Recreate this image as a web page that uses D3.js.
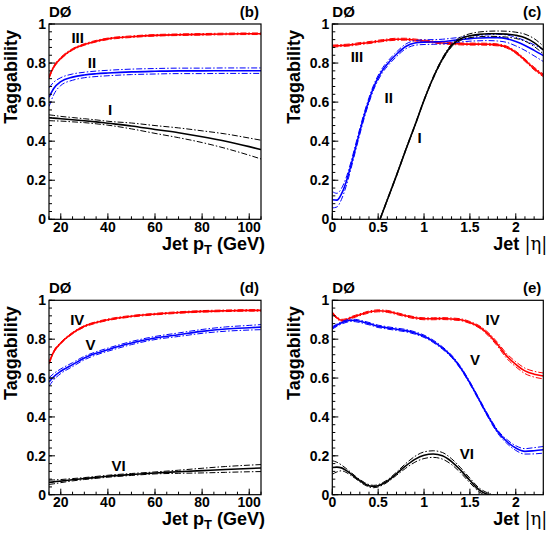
<!DOCTYPE html>
<html><head><meta charset="utf-8">
<script src="https://cdn.jsdelivr.net/npm/d3@7"></script>
<style>
html,body{margin:0;padding:0;background:#fff;}
text{font-family:"Liberation Sans",Arial,Helvetica,sans-serif;font-weight:bold;fill:#000;}
</style></head>
<body><svg id="c" width="548" height="536"></svg>
<script>
// ---------- data ----------
const ptX = [15,17,20,25,30,35,40,50,60,70,80,90,100,105];
const ptTicks = [20,40,60,80,100];
const etaTicks = [0,0.5,1,1.5,2];
const etaTickLabels = ["0","0.5","1","1.5","2"];
const yTicks = [0,0.2,0.4,0.6,0.8,1];
const yTickLabels = ["0","0.2","0.4","0.6","0.8","1"];

const b_III     = [0.727,0.78,0.824,0.87,0.895,0.912,0.924,0.935,0.942,0.945,0.947,0.949,0.95,0.95];
const b_III_err = [0.005,0.005,0.005,0.004,0.004,0.004,0.004,0.004,0.004,0.004,0.004,0.004,0.004,0.004];
const b_II      = [0.625,0.67,0.705,0.728,0.739,0.745,0.749,0.755,0.758,0.76,0.76,0.761,0.761,0.761];
const b_II_err  = [0.048,0.032,0.02,0.016,0.014,0.014,0.014,0.014,0.014,0.014,0.014,0.014,0.014,0.014];
const b_I       = [0.52,0.518,0.515,0.51,0.505,0.499,0.492,0.478,0.46,0.443,0.423,0.40,0.372,0.357];
const b_I_err   = [0.015,0.014,0.012,0.011,0.01,0.01,0.01,0.015,0.02,0.025,0.03,0.037,0.044,0.048];

const d_IV      = [0.677,0.735,0.78,0.831,0.866,0.886,0.90,0.918,0.929,0.937,0.943,0.946,0.948,0.948];
const d_IV_err  = [0.005,0.005,0.004,0.004,0.004,0.004,0.004,0.004,0.004,0.004,0.004,0.004,0.004,0.004];
const d_V       = [0.58,0.607,0.635,0.669,0.703,0.727,0.746,0.78,0.806,0.823,0.84,0.852,0.859,0.862];
const d_V_err   = [0.022,0.016,0.012,0.01,0.009,0.008,0.008,0.008,0.008,0.009,0.01,0.011,0.012,0.013];
const d_VI      = [0.064,0.066,0.07,0.077,0.083,0.089,0.095,0.104,0.112,0.118,0.124,0.13,0.135,0.137];
const d_VI_err  = [0.011,0.01,0.008,0.006,0.005,0.005,0.005,0.005,0.005,0.008,0.012,0.015,0.017,0.018];

const etaX = [0,0.05,0.1,0.15,0.2,0.25,0.3,0.35,0.4,0.45,0.5,0.55,0.6,0.7,0.8,0.9,1.0,1.1,1.2,1.3,1.4,1.5,1.6,1.7,1.8,1.9,2.0,2.1,2.2,2.3];
const c_III     = [0.887,0.888,0.89,0.891,0.893,0.896,0.9,0.902,0.905,0.908,0.912,0.915,0.918,0.922,0.922,0.918,0.913,0.908,0.903,0.9,0.898,0.897,0.897,0.896,0.893,0.882,0.855,0.815,0.772,0.737];
const c_III_err = [0.005,0.005,0.005,0.005,0.005,0.005,0.005,0.005,0.005,0.005,0.005,0.005,0.005,0.005,0.005,0.005,0.005,0.005,0.005,0.005,0.005,0.005,0.005,0.005,0.005,0.005,0.006,0.006,0.007,0.007];
const c_II      = [0.10,0.098,0.13,0.19,0.27,0.36,0.45,0.535,0.61,0.675,0.725,0.765,0.795,0.845,0.885,0.903,0.907,0.908,0.91,0.915,0.92,0.925,0.928,0.93,0.93,0.925,0.91,0.89,0.865,0.838];
const c_II_err  = [0.042,0.035,0.028,0.022,0.018,0.016,0.015,0.014,0.013,0.012,0.012,0.012,0.012,0.012,0.012,0.012,0.012,0.012,0.012,0.012,0.012,0.013,0.014,0.015,0.017,0.019,0.022,0.025,0.028,0.03];
const etaI = [0.52,0.6,0.7,0.8,0.9,1.0,1.1,1.2,1.3,1.4,1.5,1.6,1.7,1.8,1.9,2.0,2.1,2.2,2.3];
const c_I       = [0,0.10,0.225,0.355,0.48,0.61,0.725,0.82,0.89,0.925,0.94,0.947,0.95,0.95,0.948,0.942,0.93,0.905,0.867];
const c_I_err   = [0.004,0.004,0.004,0.004,0.004,0.004,0.005,0.006,0.007,0.008,0.01,0.012,0.013,0.014,0.015,0.016,0.018,0.02,0.02];

const e_IV      = [0.935,0.91,0.897,0.9,0.91,0.918,0.926,0.933,0.94,0.944,0.946,0.945,0.943,0.932,0.92,0.91,0.905,0.905,0.906,0.904,0.9,0.886,0.864,0.826,0.774,0.714,0.671,0.637,0.62,0.611];
const e_IV_err  = [0.005,0.005,0.005,0.005,0.005,0.005,0.005,0.005,0.005,0.005,0.005,0.005,0.005,0.005,0.005,0.005,0.005,0.005,0.005,0.005,0.005,0.005,0.006,0.008,0.01,0.012,0.013,0.014,0.015,0.015];
const e_V       = [0.858,0.872,0.884,0.892,0.897,0.896,0.892,0.886,0.88,0.873,0.866,0.862,0.858,0.851,0.844,0.832,0.815,0.789,0.755,0.712,0.652,0.575,0.489,0.403,0.326,0.275,0.24,0.223,0.226,0.231];
const e_V_err   = [0.006,0.006,0.006,0.006,0.006,0.006,0.006,0.006,0.006,0.006,0.006,0.006,0.006,0.006,0.006,0.006,0.006,0.006,0.006,0.006,0.006,0.006,0.006,0.007,0.008,0.01,0.012,0.014,0.016,0.017];
const etaVI = [0,0.05,0.1,0.15,0.2,0.25,0.3,0.35,0.4,0.45,0.5,0.55,0.6,0.7,0.8,0.9,1.0,1.1,1.2,1.3,1.4,1.5,1.6,1.7,1.8];
const e_VI      = [0.14,0.142,0.138,0.125,0.108,0.09,0.072,0.057,0.046,0.042,0.046,0.056,0.07,0.108,0.148,0.182,0.203,0.209,0.2,0.17,0.125,0.073,0.025,0.0,-0.01];
const e_VI_err  = [0.035,0.025,0.015,0.01,0.008,0.006,0.006,0.006,0.006,0.006,0.006,0.006,0.006,0.008,0.012,0.015,0.017,0.017,0.017,0.015,0.013,0.012,0.01,0.008,0.005];

const RED = "#ff0000", BLUE = "#0000ff", BLACK = "#000000";

// ---------- layout ----------
const panels = [
  {tag:"(b)", kind:"pt", L:49, R:261, T:24, B:219.3,
   series:[{x:ptX,y:b_III,e:b_III_err,c:RED,lab:"III",lx:24.5,ly:0.905},
           {x:ptX,y:b_II,e:b_II_err,c:BLUE,lab:"II",lx:31.5,ly:0.775},
           {x:ptX,y:b_I,e:b_I_err,c:BLACK,lab:"I",lx:40,ly:0.535}]},
  {tag:"(c)", kind:"eta", L:332.3, R:543.3, T:24, B:219.3,
   series:[{x:etaX,y:c_III,e:c_III_err,c:RED,lab:"III",lx:0.2,ly:0.805},
           {x:etaX,y:c_II,e:c_II_err,c:BLUE,lab:"II",lx:0.57,ly:0.595},
           {x:etaI,y:c_I,e:c_I_err,c:BLACK,lab:"I",lx:0.93,ly:0.39}]},
  {tag:"(d)", kind:"pt", L:49, R:261, T:300.3, B:494.7,
   series:[{x:ptX,y:d_IV,e:d_IV_err,c:RED,lab:"IV",lx:24,ly:0.873},
           {x:ptX,y:d_V,e:d_V_err,c:BLUE,lab:"V",lx:30.5,ly:0.745},
           {x:ptX,y:d_VI,e:d_VI_err,c:BLACK,lab:"VI",lx:41.5,ly:0.122}]},
  {tag:"(e)", kind:"eta", L:332.3, R:543.3, T:300.3, B:494.7,
   series:[{x:etaX,y:e_IV,e:e_IV_err,c:RED,lab:"IV",lx:1.67,ly:0.875},
           {x:etaX,y:e_V,e:e_V_err,c:BLUE,lab:"V",lx:1.5,ly:0.665},
           {x:etaVI,y:e_VI,e:e_VI_err,c:BLACK,lab:"VI",lx:1.39,ly:0.183}]}
];

const svg = d3.select("#c");

panels.forEach((p,pi)=>{
  const xs = d3.scaleLinear().domain(p.kind==="pt"?[15,105]:[0,2.3]).range([p.L,p.R]);
  const ys = d3.scaleLinear().domain([0,1]).range([p.B,p.T]);
  const g = svg.append("g");
  const clipId = "clip"+pi;
  svg.append("clipPath").attr("id",clipId).append("rect")
     .attr("x",p.L).attr("y",p.T).attr("width",p.R-p.L).attr("height",p.B-p.T);

  // curves
  const cg = g.append("g").attr("clip-path",`url(#${clipId})`);
  p.series.forEach(s=>{
    const pts = s.x.map((x,i)=>({x, y:s.y[i], e:s.e[i]}));
    const mk = f => d3.line().x(d=>xs(d.x)).y(d=>ys(f(d))).curve(d3.curveMonotoneX)(pts);
    cg.append("path").attr("d",mk(d=>d.y+d.e)).attr("fill","none").attr("stroke",s.c)
      .attr("stroke-width",1).attr("stroke-dasharray","6,2,1.5,2");
    cg.append("path").attr("d",mk(d=>d.y-d.e)).attr("fill","none").attr("stroke",s.c)
      .attr("stroke-width",1).attr("stroke-dasharray","6,2,1.5,2");
    cg.append("path").attr("d",mk(d=>d.y)).attr("fill","none").attr("stroke",s.c)
      .attr("stroke-width",1.6);
    g.append("text").attr("x",xs(s.lx)).attr("y",ys(s.ly)).attr("font-size",15).text(s.lab);
  });

  // frame
  g.append("rect").attr("x",p.L).attr("y",p.T).attr("width",p.R-p.L).attr("height",p.B-p.T)
    .attr("fill","none").attr("stroke","#000").attr("stroke-width",1.2);

  // x ticks
  let majors, minors, labels;
  if(p.kind==="pt"){ majors=ptTicks; minors=d3.range(15,106,5); labels=ptTicks.map(String); }
  else { majors=etaTicks; minors=d3.range(0,2.31,0.1); labels=etaTickLabels; }
  minors.forEach(v=>{ g.append("line").attr("x1",xs(v)).attr("x2",xs(v)).attr("y1",p.B).attr("y2",p.B-3)
      .attr("stroke","#000").attr("stroke-width",1); });
  majors.forEach((v,i)=>{
    g.append("line").attr("x1",xs(v)).attr("x2",xs(v)).attr("y1",p.B).attr("y2",p.B-6)
      .attr("stroke","#000").attr("stroke-width",1);
    g.append("text").attr("x",xs(v)).attr("y",p.B+12.5).attr("text-anchor","middle")
      .attr("font-size",14).text(labels[i]);
  });
  // y ticks
  d3.range(0,1.001,0.04).forEach(v=>{ g.append("line").attr("x1",p.L).attr("x2",p.L+3).attr("y1",ys(v)).attr("y2",ys(v))
      .attr("stroke","#000").attr("stroke-width",1); });
  yTicks.forEach((v,i)=>{
    g.append("line").attr("x1",p.L).attr("x2",p.L+6).attr("y1",ys(v)).attr("y2",ys(v))
      .attr("stroke","#000").attr("stroke-width",1);
    g.append("text").attr("x",p.L-3).attr("y",ys(v)+5).attr("text-anchor","end")
      .attr("font-size",14).text(yTickLabels[i]);
  });

  // axis titles
  g.append("text").attr("transform",`translate(${p.L-32},${p.T+6}) rotate(-90)`)
    .attr("text-anchor","end").attr("font-size",18).text("Taggability");
  const xt = g.append("text").attr("x",p.R+4).attr("y",p.B+30.5).attr("text-anchor","end").attr("font-size",18);
  if(p.kind==="pt"){
    xt.append("tspan").text("Jet p");
    xt.append("tspan").attr("dy",4).attr("font-size",13).text("T");
    xt.append("tspan").attr("dy",-4).text(" (GeV)");
  } else {
    xt.append("tspan").text("Jet ");
    xt.append("tspan").attr("font-weight","normal").attr("font-family","DejaVu Serif, serif").text("|\u03B7|");
  }
  // DØ and tag
  g.append("text").attr("x",p.L).attr("y",p.T-7).attr("font-size",15).text("D\u00D8");
  g.append("text").attr("x",p.R-2).attr("y",p.T-7).attr("text-anchor","end").attr("font-size",15).text(p.tag);
});
</script></body></html>
